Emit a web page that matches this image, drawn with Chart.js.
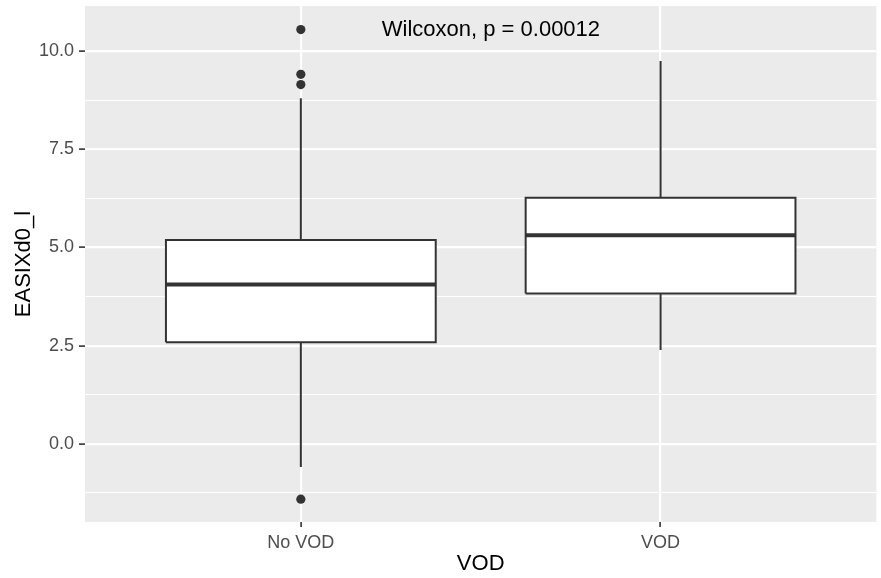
<!DOCTYPE html>
<html>
<head>
<meta charset="utf-8">
<title>EASIXd0_l by VOD</title>
<script src="https://cdn.jsdelivr.net/npm/chart.js@4/dist/chart.umd.min.js"></script>
<style>
	body { margin: 0; background: #fff; }
	#wrap { width: 881px; height: 578px; }
</style>
</head>
<body>
<div id="wrap"><canvas id="myChart" width="881" height="578"></canvas></div>
<script>
//박스플롯 값
var groups = ['No VOD', 'VOD'];
var q1 = [2.59, 3.83];
var median = [4.06, 5.31];
var q3 = [5.19, 6.27];
var whiskerLow = [-0.59, 2.39];
var whiskerHigh = [8.80, 9.75];
var outliers = [
	[10.55, 9.41, 9.15, -1.41],
	[]
];
var yTicks = [-1.25, 0, 1.25, 2.5, 3.75, 5, 6.25, 7.5, 8.75, 10];
var pLabel = 'Wilcoxon, p = 0.00012';

var FONT = '"Liberation Sans", Arial, Helvetica, sans-serif';
var LINE = '#333333';
var BOX_W = 0.75;

function isMajor(v) {
	return Math.abs(v / 2.5 - Math.round(v / 2.5)) < 1e-6;
}

//데이터셋 만들기 (박스 하나당 여러 개)
function buildDatasets() {
	var sets = [];
	for (var i = 0; i < groups.length; i++) {
		var x = i + 1;
		var l = x - BOX_W / 2;
		var r = x + BOX_W / 2;

		// white box body: fill between q3 edge and q1 edge
		sets.push({ data: [{x: l, y: q3[i]}, {x: r, y: q3[i]}], borderWidth: 0, fill: '+1', backgroundColor: '#ffffff', order: 5 });
		sets.push({ data: [{x: l, y: q1[i]}, {x: r, y: q1[i]}], borderWidth: 0, fill: false, order: 5 });

		// whiskers
		sets.push({ data: [{x: x, y: q3[i]}, {x: x, y: whiskerHigh[i]}], borderColor: LINE, borderWidth: 2, order: 4 });
		sets.push({ data: [{x: x, y: q1[i]}, {x: x, y: whiskerLow[i]}], borderColor: LINE, borderWidth: 2, order: 4 });

		// box outline
		sets.push({
			data: [{x: l, y: q1[i]}, {x: r, y: q1[i]}, {x: r, y: q3[i]}, {x: l, y: q3[i]}, {x: l, y: q1[i]}],
			borderColor: LINE, borderWidth: 2, borderJoinStyle: 'miter', order: 2
		});

		// median
		sets.push({ data: [{x: l, y: median[i]}, {x: r, y: median[i]}], borderColor: LINE, borderWidth: 4, order: 1 });

		// outliers
		sets.push({
			type: 'scatter',
			data: outliers[i].map(function (v) { return {x: x, y: v}; }),
			pointRadius: 4.6, pointBackgroundColor: LINE, pointBorderWidth: 0, order: 0
		});
	}
	return sets;
}

//회색 패널 배경
var panelBg = {
	id: 'panelBg',
	beforeDraw: function (chart) {
		var a = chart.chartArea;
		var c = chart.ctx;
		c.save();
		c.fillStyle = '#EBEBEB';
		c.fillRect(a.left, a.top, a.right - a.left, a.bottom - a.top);
		c.restore();
	}
};

//p값 텍스트
var pText = {
	id: 'pText',
	afterDatasetsDraw: function (chart) {
		var all = [];
		outliers.forEach(function (o) { all = all.concat(o); });
		var yTop = Math.max.apply(null, all.concat(whiskerHigh));
		var c = chart.ctx;
		c.save();
		c.font = '22px ' + FONT;
		c.fillStyle = '#000';
		c.textAlign = 'left';
		c.textBaseline = 'middle';
		c.fillText(pLabel, chart.scales.x.getPixelForValue(1.225), chart.scales.y.getPixelForValue(yTop));
		c.restore();
	}
};

var ctx = document.getElementById('myChart').getContext('2d');
var myBoxChart = new Chart(ctx, {
	type: 'line',
	data: { datasets: buildDatasets() },
	plugins: [panelBg, pText],
	options: {
		responsive: false,
		devicePixelRatio: 1,
		animation: false,
		events: [],
		layout: { padding: { top: 6, right: 2, bottom: 0, left: 0 } },
		elements: { point: { radius: 0 }, line: { tension: 0 } },
		plugins: { legend: { display: false }, tooltip: { enabled: false } },
		scales: {
			x: {
				type: 'linear',
				min: 0.4,
				max: 2.6,
				afterBuildTicks: function (scale) {
					scale.ticks = groups.map(function (g, i) { return {value: i + 1}; });
				},
				afterFit: function (scale) {
					scale.height = 56;
					scale.paddingLeft = 0;
					scale.paddingRight = 0;
				},
				ticks: {
					autoSkip: false,
					maxRotation: 0,
					padding: 5,
					color: '#4D4D4D',
					font: { family: FONT, size: 18 },
					callback: function (v) { return groups[Math.round(v) - 1]; }
				},
				grid: { color: '#ffffff', lineWidth: 2.2, tickColor: LINE, tickWidth: 1.6, tickLength: 5 },
				border: { display: false },
				title: { display: true, text: 'VOD', color: '#000', font: { family: FONT, size: 22 }, padding: { top: 0, bottom: 1 } }
			},
			y: {
				type: 'linear',
				min: -1.99,
				max: 11.15,
				afterBuildTicks: function (scale) {
					scale.ticks = yTicks.map(function (v) { return {value: v}; });
				},
				afterFit: function (scale) {
					scale.width = 85;
					scale.paddingTop = 0;
					scale.paddingBottom = 0;
				},
				ticks: {
					autoSkip: false,
					padding: 5,
					color: '#4D4D4D',
					font: { family: FONT, size: 18 },
					callback: function (v) { return isMajor(v) ? v.toFixed(1) : ''; }
				},
				grid: {
					color: '#ffffff',
					lineWidth: function (c) { return c.tick && isMajor(c.tick.value) ? 2.2 : 1.1; },
					tickColor: function (c) { return c.tick && isMajor(c.tick.value) ? LINE : 'rgba(0,0,0,0)'; },
					tickWidth: 1.6,
					tickLength: 6
				},
				border: { display: false },
				title: { display: true, text: 'EASIXd0_l', color: '#000', font: { family: FONT, size: 22 }, padding: { top: 11, bottom: 0 } }
			}
		}
	}
});
</script>
</body>
</html>
